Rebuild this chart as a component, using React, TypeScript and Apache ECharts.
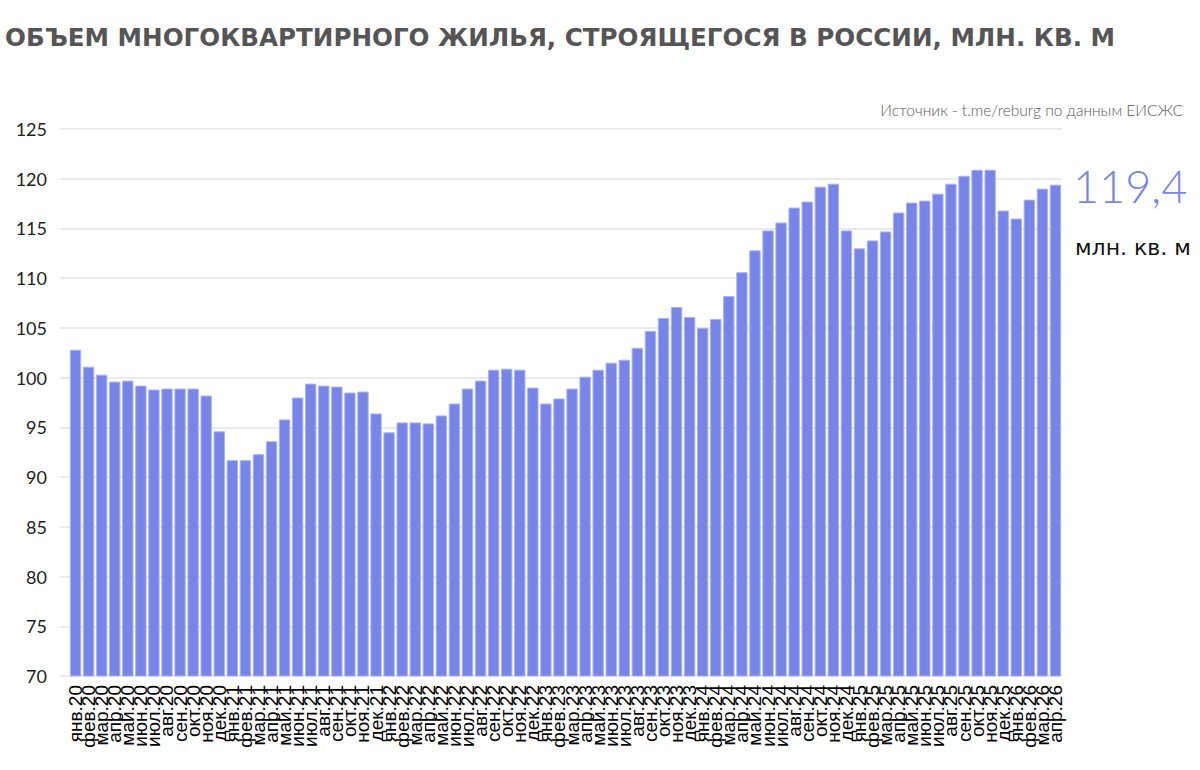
import { useEffect, useRef } from 'react';
import * as echarts from 'echarts';

const MONTHS = ['янв', 'фев', 'мар', 'апр', 'май', 'июн', 'июл', 'авг', 'сен', 'окт', 'ноя', 'дек'];
const YEARS = ['20', '21', '22', '23', '24', '25', '26'];

// млн. кв. м, янв.20 .. апр.26
const VOLUME_2020 = [102.8, 101.1, 100.3, 99.6, 99.7, 99.2, 98.8, 98.9, 98.9, 98.9, 98.2, 94.6];
const VOLUME_2021 = [91.7, 91.7, 92.3, 93.6, 95.8, 98.0, 99.4, 99.2, 99.1, 98.5, 98.6, 96.4];
const VOLUME_2022 = [94.5, 95.5, 95.5, 95.4, 96.2, 97.4, 98.9, 99.7, 100.8, 100.9, 100.8, 99.0];
const VOLUME_2023 = [97.4, 97.9, 98.9, 100.1, 100.8, 101.5, 101.8, 103.0, 104.7, 106.0, 107.1, 106.1];
const VOLUME_2024 = [105.0, 105.9, 108.2, 110.6, 112.8, 114.8, 115.6, 117.1, 117.7, 119.2, 119.5, 114.8];
const VOLUME_2025 = [113.0, 113.8, 114.7, 116.6, 117.6, 117.8, 118.5, 119.5, 120.3, 120.9, 120.9, 116.8];
const VOLUME_2026 = [116.0, 117.9, 119.0, 119.4];

const TITLE = 'ОБЪЕМ МНОГОКВАРТИРНОГО ЖИЛЬЯ, СТРОЯЩЕГОСЯ В РОССИИ, МЛН. КВ. М';
const SOURCE = 'Источник - t.me/reburg по данным ЕИСЖС';
const LAST_VALUE = '119,4';
const UNIT = 'млн. кв. м';

const values = [
  ...VOLUME_2020,
  ...VOLUME_2021,
  ...VOLUME_2022,
  ...VOLUME_2023,
  ...VOLUME_2024,
  ...VOLUME_2025,
  ...VOLUME_2026,
];
const categories = values.map((_, i) => `${MONTHS[i % 12]}.${YEARS[Math.floor(i / 12)]}`);

const BAR = '#7784e8';
const FONT = 'Lato, "Noto Sans", sans-serif';
const WIDE = '"DejaVu Sans", "Noto Sans", sans-serif';

export default function App() {
  const ref = useRef<HTMLDivElement | null>(null);

  useEffect(() => {
    if (!ref.current) return;
    const chart = echarts.init(ref.current, null, { renderer: 'svg' });

    const top = 129;
    const bottom = 94;

    chart.setOption({
      animation: false,
      backgroundColor: '#fff',
      grid: [
        { left: 69, right: 138, top, bottom },
        // wider grid only for the gridlines and y labels
        { left: 60, right: 138, top, bottom },
      ],
      xAxis: [
        {
          type: 'category',
          gridIndex: 0,
          data: categories,
          axisLine: { show: false },
          axisTick: { show: false },
          axisLabel: {
            interval: 0,
            rotate: 90,
            margin: 9,
            fontSize: 19,
            color: '#000',
            fontFamily: '"Liberation Sans", Arial, sans-serif',
          },
        },
        { type: 'category', gridIndex: 1, data: [''], show: false },
      ],
      yAxis: [
        { type: 'value', gridIndex: 0, min: 70, max: 125, interval: 5, show: false },
        {
          type: 'value',
          gridIndex: 1,
          min: 70,
          max: 125,
          interval: 5,
          axisLine: { show: false },
          axisTick: { show: false },
          axisLabel: { margin: 13, fontSize: 18, color: '#222', fontFamily: FONT },
          splitLine: { lineStyle: { color: '#e3e3e3', width: 1.5 } },
        },
      ],
      series: [
        {
          type: 'bar',
          xAxisIndex: 0,
          yAxisIndex: 0,
          data: values,
          barCategoryGap: '13%',
          itemStyle: { color: BAR, borderColor: '#aab2f3', borderWidth: 1 },
        },
      ],
      graphic: [
        {
          type: 'text',
          left: 5,
          top: 25,
          style: {
            text: TITLE,
            font: `bold 24.6px ${WIDE}`,
            fill: '#555',
          },
        },
        {
          type: 'text',
          right: 17,
          top: 102,
          style: {
            text: SOURCE,
            font: `300 15.5px ${FONT}`,
            fill: '#5a5a5a',
          },
        },
        {
          type: 'text',
          left: 1073,
          top: 163,
          style: {
            text: LAST_VALUE,
            font: `300 45px ${FONT}`,
            fill: BAR,
          },
        },
        {
          type: 'text',
          left: 1075,
          top: 236,
          style: {
            text: UNIT,
            font: `22px ${WIDE}`,
            fill: '#111',
          },
        },
      ],
    });

    return () => chart.dispose();
  }, []);

  return (
    <div
      ref={ref}
      style={{ position: 'absolute', left: 0, top: 0, width: 1200, height: 770, background: '#fff' }}
    />
  );
}
